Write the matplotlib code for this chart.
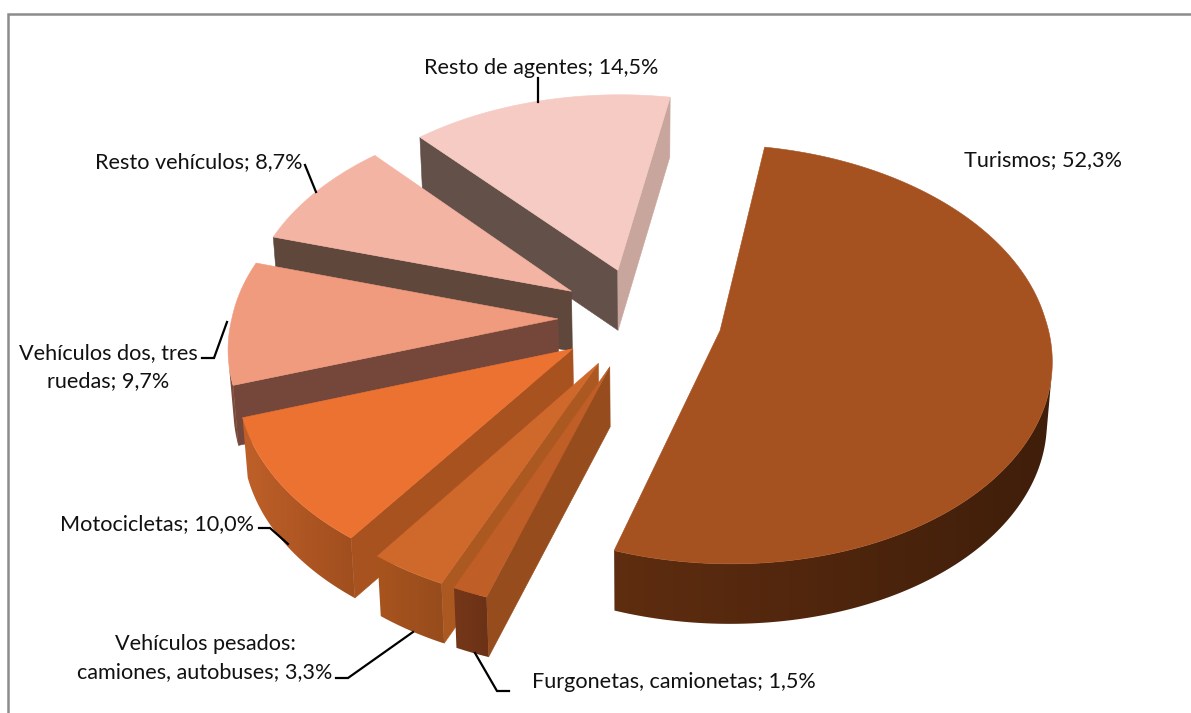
import numpy as np
import matplotlib
matplotlib.use("Agg")
import matplotlib.pyplot as plt
from matplotlib.colors import to_rgb
from matplotlib.patches import Polygon

categories = ["Turismos", "Furgonetas, camionetas", "Vehículos pesados: camiones, autobuses",
              "Motocicletas", "Vehículos dos, tres ruedas", "Resto vehículos", "Resto de agentes"]
shares = [52.3, 1.5, 3.3, 10.0, 9.7, 8.7, 14.5]

label_texts = ["Turismos; 52,3%", "Furgonetas, camionetas; 1,5%",
               "Vehículos pesados:\ncamiones, autobuses; 3,3%", "Motocicletas; 10,0%",
               "Vehículos dos, tres\nruedas; 9,7%", "Resto vehículos; 8,7%", "Resto de agentes; 14,5%"]
label_xy = [(1043, 160), (674, 682), (205, 658), (157, 524), (108, 367), (199, 162), (541, 68)]

top_colors = ["#a55120", "#bf5e26", "#cf682b", "#ec7232", "#f09a7e", "#f4b4a4", "#f6cbc3"]
start_wall = ["#5a2a10", "#964c1c", "#ac5821", "#a7521f", "#74473a", "#5f473c", "#625049"]
end_wall = ["#5a2a10", "#964c1c", "#a8561f", "#a7521f", "#74473a", "#5f473c", "#c8a69e"]
rim_left = ["#5f2d10", "#753719", "#a8541f", "#bf6029", "#84503a", "#5f473c", "#625049"]
rim_right = ["#3f1e0a", "#6c3216", "#974c1c", "#a04e1e", "#74473a", "#5f473c", "#625049"]

leaders = [None,
           [(475, 653), (497, 691), (509, 691)],
           [(336, 678), (348, 678), (413, 632)],
           [(259, 528), (270, 528), (288, 544)],
           [(227, 322), (214, 358), (202, 358)],
           [(305, 165), (316, 192)],
           [(538, 78), (538, 102)]]

CX, CY = 640, 318
R, EXPLODE, TILT, PERSP_NEAR, PERSP_FAR, DEPTH, BOTTOM = 326, 82, 0.62, 0.12, 0.10, 60, 0.987
START = 10.0


def project(X, Y):
    s = 1 / (1 + np.where(Y > 0, PERSP_FAR, PERSP_NEAR) * Y / R)
    return CX + X * s, CY - TILT * Y * s


def drop(x, y):
    return CX + (x - CX) * BOTTOM, y + DEPTH


def area(p):
    p = np.asarray(p)
    return 0.5 * np.sum(p[:, 0] * np.roll(p[:, 1], -1) - np.roll(p[:, 0], -1) * p[:, 1])


plt.rcParams["font.family"] = ["Lato", "DejaVu Sans"]
fig = plt.figure(figsize=(11.91, 7.13), dpi=100, facecolor="white")
ax = fig.add_axes([0, 0, 1, 1])
ax.axis("off")

ax.plot([8, 8, 1191], [713, 14, 14], color="#8c8c8c", lw=1.8, solid_joinstyle="miter", zorder=0)

edges = START + np.concatenate([[0], np.cumsum(shares)]) * 3.6


def fill(poly, color, z):
    poly = np.asarray(poly)
    ax.fill(poly[:, 0], poly[:, 1], facecolor=color, edgecolor=color, lw=0.4, zorder=z)


def gradient_wall(poly, left, right, z):
    poly = np.asarray(poly)
    x0, x1 = poly[:, 0].min(), poly[:, 0].max()
    y0, y1 = poly[:, 1].min(), poly[:, 1].max()
    c0, c1 = np.array(to_rgb(left)), np.array(to_rgb(right))
    f = np.linspace(0, 1, 256)[None, :, None]
    img = c0[None, None, :] + (c1 - c0)[None, None, :] * f
    im = ax.imshow(img, extent=(x0, x1, y1, y0), aspect="auto", zorder=z, interpolation="bilinear")
    im.set_clip_path(Polygon(poly, closed=True, transform=ax.transData))


z = 1.0
for i in [6, 5, 4, 3, 2, 1, 0]:
    a0, a1 = edges[i], edges[i + 1]
    mid = np.radians((a0 + a1) / 2)
    ox, oy = EXPLODE * np.sin(mid), EXPLODE * np.cos(mid)
    th = np.radians(np.linspace(a0, a1, max(8, int((a1 - a0) * 2))))
    rim = np.column_stack(project(ox + R * np.sin(th), oy + R * np.cos(th)))
    apex = np.array(project(ox, oy), dtype=float)

    # radial walls: start-side and end-side, shown only when they face the viewer
    for edge_pt, col, sign in ((rim[0], start_wall[i], 1), (rim[-1], end_wall[i], -1)):
        quad = [apex, edge_pt, drop(*edge_pt), drop(*apex)]
        if sign * area(quad) < 0:
            fill(quad, col, z)
            z += 0.01

    # outer curved wall: the stretch of rim that faces the viewer
    visible = [j for j in range(len(rim) - 1)
               if area([rim[j], rim[j + 1], drop(*rim[j + 1]), drop(*rim[j])]) < 0]
    if visible:
        upper = rim[visible[0]:visible[-1] + 2]
        lower = np.array([drop(*p) for p in upper])[::-1]
        gradient_wall(np.vstack([upper, lower]), rim_left[i], rim_right[i], z)
    z += 0.01

    fill(np.vstack([apex, rim]), top_colors[i], z)
    z += 0.01

for pts in leaders:
    if pts:
        xs, ys = zip(*pts)
        ax.plot(xs, ys, color="black", lw=1.6, zorder=20, solid_joinstyle="miter")

for text, (x, y) in zip(label_texts, label_xy):
    ax.text(x, y, text, ha="center", va="center", fontsize=15.6, color="#111111",
            linespacing=1.5, zorder=21)

ax.set_xlim(0, 1191)
ax.set_ylim(713, 0)
fig.savefig("out.png", dpi=100, facecolor="white")
